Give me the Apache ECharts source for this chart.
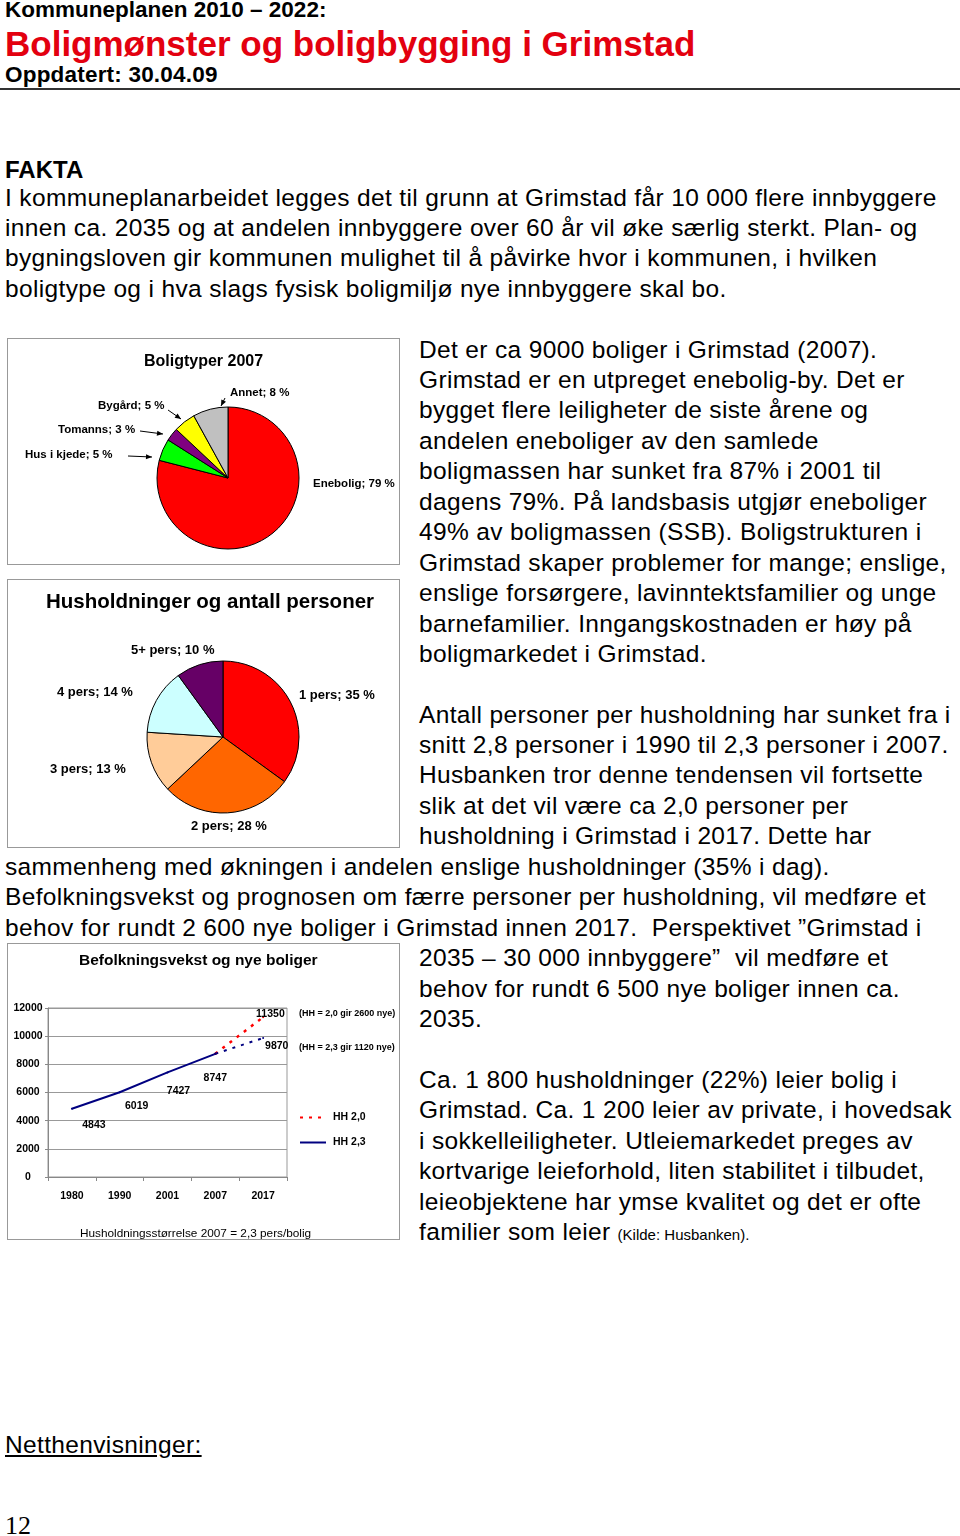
<!DOCTYPE html>
<html>
<head>
<meta charset="utf-8">
<script src="https://cdn.jsdelivr.net/npm/echarts@6/dist/echarts.min.js"></script>
<style>
  body { margin: 0; background: #fff; font-family: 'Liberation Sans', Arial, sans-serif; color: #000; }
  #page { position: relative; width: 960px; height: 1536px; overflow: hidden; background: #fff; }
  .abs { position: absolute; white-space: nowrap; }
  .hd { font-weight: bold; line-height: 1; }
  .txt { font-size: 24.5px; line-height: 30.45px; letter-spacing: 0.35px; }
  .box { position: absolute; left: 7px; width: 393px; border: 1.5px solid #999; box-sizing: border-box; background: #fff; }
  .small { font-size: 15px; letter-spacing: 0; }
</style>
</head>
<body>
<div id="page">
  <div class="abs hd" style="left:5px;top:-1.5px;font-size:22.5px;">Kommuneplanen 2010 – 2022:</div>
  <div class="abs hd" style="left:5px;top:25.5px;font-size:35px;color:#e3000f;">Boligmønster og boligbygging i Grimstad</div>
  <div class="abs hd" style="left:5px;top:64px;font-size:22.5px;letter-spacing:0.2px;">Oppdatert: 30.04.09</div>
  <div class="abs" style="left:0;top:88px;width:960px;height:2px;background:#333;"></div>

  <div class="abs hd" style="left:5px;top:158px;font-size:24px;">FAKTA</div>
  <div class="abs txt" style="left:5px;top:182.5px;">
    I kommuneplanarbeidet legges det til grunn at Grimstad får 10 000 flere innbyggere<br>
    innen ca. 2035 og at andelen innbyggere over 60 år vil øke særlig sterkt. Plan- og<br>
    bygningsloven gir kommunen mulighet til å påvirke hvor i kommunen, i hvilken<br>
    boligtype og i hva slags fysisk boligmiljø nye innbyggere skal bo.
  </div>

  <div class="abs txt" style="left:419px;top:334.5px;">
    Det er ca 9000 boliger i Grimstad (2007).<br>
    Grimstad er en utpreget enebolig-by. Det er<br>
    bygget flere leiligheter de siste årene og<br>
    andelen eneboliger av den samlede<br>
    boligmassen har sunket fra 87% i 2001 til<br>
    dagens 79%. På landsbasis utgjør eneboliger<br>
    49% av boligmassen (SSB). Boligstrukturen i<br>
    Grimstad skaper problemer for mange; enslige,<br>
    enslige forsørgere, lavinntektsfamilier og unge<br>
    barnefamilier. Inngangskostnaden er høy på<br>
    boligmarkedet i Grimstad.
  </div>

  <div class="abs txt" style="left:5px;top:699.5px;">
    <div style="margin-left:414px;">Antall personer per husholdning har sunket fra i</div>
    <div style="margin-left:414px;">snitt 2,8 personer i 1990 til 2,3 personer i 2007.</div>
    <div style="margin-left:414px;">Husbanken tror denne tendensen vil fortsette</div>
    <div style="margin-left:414px;">slik at det vil være ca 2,0 personer per</div>
    <div style="margin-left:414px;">husholdning i Grimstad i 2017. Dette har</div>
    <div>sammenheng med økningen i andelen enslige husholdninger (35% i dag).</div>
    <div>Befolkningsvekst og prognosen om færre personer per husholdning, vil medføre et</div>
    <div>behov for rundt 2 600 nye boliger i Grimstad innen 2017.&nbsp; Perspektivet ”Grimstad i</div>
    <div style="margin-left:414px;">2035 – 30 000 innbyggere”&nbsp; vil medføre et</div>
    <div style="margin-left:414px;">behov for rundt 6 500 nye boliger innen ca.</div>
    <div style="margin-left:414px;">2035.</div>
  </div>

  <div class="abs txt" style="left:419px;top:1065px;">
    Ca. 1 800 husholdninger (22%) leier bolig i<br>
    Grimstad. Ca. 1 200 leier av private, i hovedsak<br>
    i sokkelleiligheter. Utleiemarkedet preges av<br>
    kortvarige leieforhold, liten stabilitet i tilbudet,<br>
    leieobjektene har ymse kvalitet og det er ofte<br>
    familier som leier <span class="small">(Kilde: Husbanken).</span>
  </div>

  <div class="abs txt" style="left:5px;top:1430px;text-decoration:underline;">Netthenvisninger:</div>
  <div class="abs" style="left:5px;top:1513px;font-family:'Liberation Serif','Times New Roman',serif;font-size:26px;line-height:1;">12</div>

  <div id="pieBolig" class="box" style="top:338px;height:227px;"></div>
  <div id="pieHush" class="box" style="top:579px;height:269px;"></div>
  <div id="lineVekst" class="box" style="top:943px;height:297px;"></div>
</div>

<script>
// Boligtyper 2007
const boligTyper = ['Enebolig', 'Hus i kjede', 'Tomanns', 'Bygård', 'Annet']
const boligAndel = [79, 5, 3, 5, 8]
const boligFarger = ['#ff0000', '#00ff00', '#800080', '#ffff00', '#c0c0c0']

// Husholdninger og antall personer
const hushTyper = ['1 pers', '2 pers', '3 pers', '4 pers', '5+ pers']
const hushAndel = [35, 28, 13, 14, 10]
const hushFarger = ['#ff0000', '#ff6600', '#ffcc99', '#ccffff', '#660066']

// Befolkningsvekst og nye boliger
const aar = ['1980', '1990', '2001', '2007', '2017']
const boligerHH23 = [4843, 6019, 7427, 8747, null]
const prognoseHH23 = [null, null, null, 8747, 9870]
const prognoseHH20 = [null, null, null, 8747, 11350]

const labelFont = { fontFamily: 'Liberation Sans, Arial, sans-serif', fontWeight: 'bold', color: '#000' }

// --- pie 1 ---
let chart1 = echarts.init(document.getElementById('pieBolig'))
// label anchor (left, middle) and arrow from -> to, chart pixels
const pie1Labels = [
  { x: 305, y: 145 },
  { x: 17, y: 116, line: [[120, 117], [144, 118]] },
  { x: 50, y: 91, line: [[132, 92], [155, 95]] },
  { x: 90, y: 67, line: [[160, 71], [173, 80]] },
  { x: 222, y: 54, line: [[217, 59], [213, 67]] },
]
// small arrow heads at the end of each label line
const arrowHeads = pie1Labels.filter(p => p.line).map(p => {
  let [a, b] = p.line
  let ang = Math.atan2(b[1] - a[1], b[0] - a[0])
  let len = 6, w = 2.6
  let bx = b[0] - len * Math.cos(ang), by = b[1] - len * Math.sin(ang)
  return {
    type: 'polygon',
    shape: { points: [b, [bx - w * Math.sin(ang), by + w * Math.cos(ang)], [bx + w * Math.sin(ang), by - w * Math.cos(ang)]] },
    style: { fill: '#000' },
  }
})
chart1.setOption({
  animation: false,
  title: {
    text: 'Boligtyper 2007', left: 'center', top: 10,
    textStyle: { ...labelFont, fontSize: 16 },
  },
  graphic: arrowHeads,
  series: [{
    type: 'pie',
    center: [220, 139],
    radius: 71,
    startAngle: 90,
    clockwise: true,
    data: boligTyper.map((n, i) => ({
      name: n, value: boligAndel[i],
      itemStyle: { color: boligFarger[i] },
      labelLine: { show: i > 0 },
    })),
    itemStyle: { borderColor: '#000', borderWidth: 1 },
    label: { ...labelFont, fontSize: 11.5, formatter: '{b}; {c} %', overflow: 'none' },
    labelLine: { lineStyle: { color: '#000', width: 1 } },
    labelLayout: function (params) {
      let p = pie1Labels[params.dataIndex]
      let out = { x: p.x, y: p.y, align: 'left', verticalAlign: 'middle' }
      if (p.line) out.labelLinePoints = [p.line[0], p.line[0], p.line[1]]
      return out
    },
  }],
})

// --- pie 2 ---
let chart2 = echarts.init(document.getElementById('pieHush'))
const pie2Labels = [
  { x: 291, y: 115 }, { x: 183, y: 246 }, { x: 42, y: 189 }, { x: 49, y: 112 }, { x: 123, y: 70 },
]
chart2.setOption({
  animation: false,
  title: {
    text: 'Husholdninger og antall personer', left: 33, top: 7,
    textStyle: { ...labelFont, fontSize: 20.5 },
  },
  series: [{
    type: 'pie',
    center: [215, 157],
    radius: 76,
    startAngle: 90,
    clockwise: true,
    data: hushTyper.map((n, i) => ({ name: n, value: hushAndel[i], itemStyle: { color: hushFarger[i] } })),
    itemStyle: { borderColor: '#000', borderWidth: 1 },
    label: { ...labelFont, fontSize: 13, formatter: '{b}; {c} %', overflow: 'none' },
    labelLine: { show: false },
    labelLayout: function (params) {
      let p = pie2Labels[params.dataIndex]
      return { x: p.x, y: p.y, align: 'left', verticalAlign: 'middle' }
    },
  }],
})

// --- line chart ---
let chart3 = echarts.init(document.getElementById('lineVekst'))
const mainOffsets = [[22, 4.5], [17, 2.5], [11, 7.5], [0, 12.5]] // label nudges, below-right of points
const lineSymbol = { symbol: 'circle', symbolSize: 2, showSymbol: true }
chart3.setOption({
  animation: false,
  title: [
    { text: 'Befolkningsvekst og nye boliger', left: 66, top: 4, textStyle: { ...labelFont, fontSize: 15.5 } },
    { text: 'Husholdningsstørrelse 2007 = 2,3 pers/bolig', left: 67, top: 279,
      textStyle: { fontFamily: 'Liberation Sans, Arial, sans-serif', fontWeight: 'normal', fontSize: 11.8, color: '#000' } },
    { text: '(HH = 2,0 gir 2600 nye)', left: 286, top: 60, textStyle: { ...labelFont, fontSize: 9 } },
    { text: '(HH = 2,3 gir 1120 nye)', left: 286, top: 94, textStyle: { ...labelFont, fontSize: 9 } },
  ],
  legend: {
    data: ['HH 2,0', 'HH 2,3'],
    orient: 'vertical',
    left: 286, top: 163,
    itemWidth: 26, itemHeight: 10, itemGap: 14,
    itemStyle: { opacity: 0 },
    textStyle: { ...labelFont, fontSize: 10.5, padding: [0, 0, 0, 2] },
  },
  grid: { left: 40, top: 64, width: 239, height: 169, show: true, borderColor: '#999', borderWidth: 1 },
  xAxis: {
    type: 'category',
    data: aar,
    boundaryGap: true,
    axisLine: { lineStyle: { color: '#888' } },
    axisTick: { show: true, length: 4, lineStyle: { color: '#888' } },
    axisLabel: { ...labelFont, fontSize: 10.5, margin: 14 },
  },
  yAxis: {
    type: 'value',
    min: 0, max: 12000, interval: 2000,
    axisLine: { show: true, lineStyle: { color: '#888' } },
    axisTick: { show: true, length: 3, lineStyle: { color: '#888' } },
    splitLine: { lineStyle: { color: '#999' } },
    axisLabel: { ...labelFont, fontSize: 10.5, align: 'center', margin: 20, formatter: v => String(v) },
  },
  series: [
    {
      name: 'HH 2,0',
      type: 'line',
      ...lineSymbol,
      data: prognoseHH20.map((v, i) => i === 4 ? { value: v, label: { show: true, position: 'right', offset: [-13, -3] } } : v),
      lineStyle: { color: '#ff0000', width: 2.5, type: [3, 6] },
      itemStyle: { color: '#ff0000' },
      label: { ...labelFont, fontSize: 10.5 },
    },
    {
      name: 'HH 2,3',
      type: 'line',
      ...lineSymbol,
      data: boligerHH23.map((v, i) => v === null ? v : { value: v, label: { show: true, position: 'bottom', offset: mainOffsets[i] } }),
      lineStyle: { color: '#000080', width: 2 },
      itemStyle: { color: '#000080' },
      label: { ...labelFont, fontSize: 10.5 },
    },
    {
      name: 'HH 2,3 prognose',
      type: 'line',
      ...lineSymbol,
      data: prognoseHH23.map((v, i) => i === 4 ? { value: v, label: { show: true, position: 'right', offset: [-4, 8] } } : v),
      lineStyle: { color: '#000080', width: 2, type: [3, 6] },
      itemStyle: { color: '#000080' },
      label: { ...labelFont, fontSize: 10.5 },
    },
  ],
})
</script>
</body>
</html>
